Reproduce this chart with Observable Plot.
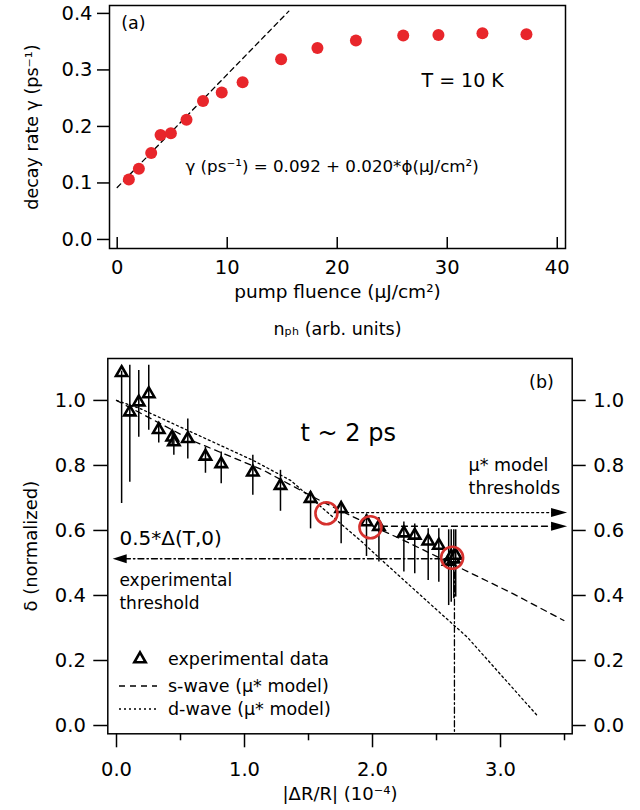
<!DOCTYPE html>
<html><head><meta charset="utf-8">
<script src="https://cdn.jsdelivr.net/npm/d3@7"></script>
<script src="https://cdn.jsdelivr.net/npm/@observablehq/plot@0.6"></script>
<style>
body{margin:0;background:#fff;}
#wrap{position:relative;width:640px;height:810px;background:#fff;}
#wrap svg{position:absolute;left:0;}
</style></head><body><div id="wrap"></div>
<script>
// ---------- Panel (a) data ----------
const fluence = [1.06, 1.97, 3.09, 3.94, 4.88, 6.3, 7.8, 9.5, 11.4, 14.9, 18.2, 21.7, 26.0, 29.2, 33.2, 37.2];
const gamma   = [0.106, 0.125, 0.153, 0.185, 0.188, 0.212, 0.245, 0.260, 0.278, 0.319, 0.339, 0.352, 0.361, 0.362, 0.365, 0.363];
const fitFluence = [0, 15.6];
const fitGamma   = [0.092, 0.404];
const aYTicks = [0, 0.1, 0.2, 0.3, 0.4];
const aXTicks = [0, 10, 20, 30, 40];

// ---------- Panel (b) data ----------
const dR      = [0.04, 0.104, 0.174, 0.252, 0.33, 0.435, 0.448, 0.557, 0.695, 0.818, 1.065, 1.281, 1.516, 1.755, 1.953, 2.05, 2.245, 2.33, 2.435, 2.518, 2.595, 2.615, 2.635, 2.65];
const delta   = [1.085, 0.964, 0.995, 1.02, 0.91, 0.887, 0.872, 0.882, 0.828, 0.805, 0.779, 0.738, 0.698, 0.667, 0.626, 0.612, 0.592, 0.585, 0.567, 0.554, 0.505, 0.52, 0.512, 0.523];
const deltaHi = [1.09, 1.108, 1.092, 1.108, 0.929, 0.9, 0.9, 0.943, 0.856, 0.841, 0.831, 0.785, 0.72, 0.69, 0.65, 0.64, 0.626, 0.62, 0.605, 0.605, 0.602, 0.602, 0.602, 0.602];
const deltaLo = [0.683, 0.748, 0.887, 0.908, 0.869, 0.86, 0.831, 0.82, 0.776, 0.744, 0.708, 0.659, 0.605, 0.559, 0.52, 0.503, 0.472, 0.467, 0.446, 0.441, 0.369, 0.379, 0.39, 0.395];

const sWaveX = [0, 0.6, 1.15, 1.37, 1.6, 2.0, 2.22, 2.71, 3.1, 3.495];
const sWaveY = [1.0, 0.875, 0.785, 0.738, 0.69, 0.613, 0.574, 0.48, 0.405, 0.323];
const dWaveX = [0, 0.19, 1.07, 1.36, 1.65, 1.906, 2.06, 2.49, 2.74, 3.286];
const dWaveY = [1.0, 0.974, 0.815, 0.754, 0.655, 0.569, 0.513, 0.36, 0.272, 0.031];

const circleX = [1.64, 1.984, 2.622];
const circleY = [0.653, 0.610, 0.516];

const modelArrowX1 = [1.72, 2.07];
const modelArrowX2 = [3.52, 3.52];
const modelArrowY  = [0.655, 0.613];
const modelArrowDash = ["2,3", "6,4"];

const expThrX = 2.64, expThrY = 0.513, expArrowTipX = -0.03;

const bYTicks = [0, 0.2, 0.4, 0.6, 0.8, 1.0];
const bXTicks = [0, 1, 2, 3];
const bXMinor = [0.5, 1.5, 2.5, 3.5];

// ---------- helpers ----------
const FONT = '"DejaVu Sans", sans-serif';
const f1 = d3.format(".1f");
const headRight = {draw(c){c.moveTo(0,0);c.lineTo(-16,-4.5);c.lineTo(-16,4.5);c.closePath();}};
const headLeft  = {draw(c){c.moveTo(0,0);c.lineTo(14,-4.5);c.lineTo(14,4.5);c.closePath();}};

const wrap = document.getElementById("wrap");

// ---------- Panel (a) ----------
const aPts = fluence.map((f, i) => ({f, g: gamma[i]}));
const aFit = fitFluence.map((f, i) => ({f, g: fitGamma[i]}));
const A = Plot.plot({
  width: 640, height: 340,
  marginLeft: 109, marginRight: 75, marginTop: 5, marginBottom: 92,
  style: {fontFamily: FONT, fontSize: "19px", color: "black", background: "white"},
  x: {domain: [-0.7, 40.75]},
  y: {domain: [-0.016, 0.414]},
  marks: [
    Plot.frame({stroke: "black", strokeWidth: 1.5}),
    Plot.axisY({ticks: aYTicks, tickSize: 12, tickPadding: 5, tickFormat: f1, fontSize: 19.5, strokeWidth: 1.5, label: null}),
    Plot.axisX({ticks: aXTicks, tickSize: 0, tickPadding: 12, tickFormat: d => String(d), fontSize: 19.5, label: null}),
    Plot.tickX(aXTicks, {x: d => d, insetTop: 232, strokeWidth: 1.5}),
    Plot.line(aFit, {x: "f", y: "g", stroke: "black", strokeWidth: 1.3, strokeDasharray: "5,4"}),
    Plot.dot(aPts, {x: "f", y: "g", r: 6, fill: "#e8262b"}),
    Plot.text(["(a)"], {x: 0.36, y: 0.383, textAnchor: "start", fontSize: 17.5}),
    Plot.text(["T = 10 K"], {x: 27.66, y: 0.281, textAnchor: "start", fontSize: 19}),
    Plot.text(["γ (ps⁻¹) = 0.092 + 0.020*ϕ(μJ/cm²)"], {x: 6.2, y: 0.128, textAnchor: "start", fontSize: 16.7}),
    Plot.text(["pump fluence (μJ/cm²)"], {frameAnchor: "bottom", dy: 44, lineAnchor: "middle", textAnchor: "middle", fontSize: 18.5}),
    Plot.text(["nₚₕ (arb. units)"], {frameAnchor: "bottom", dy: 81, lineAnchor: "middle", textAnchor: "middle", fontSize: 17.5}),
    Plot.text(["decay rate γ (ps⁻¹)"], {frameAnchor: "left", dx: -77, rotate: -90, textAnchor: "middle", lineAnchor: "middle", fontSize: 17.5})
  ]
});
A.style.top = "0px";
wrap.appendChild(A);

// ---------- Panel (b) ----------
const bPts = dR.map((x, i) => ({x, y: delta[i], lo: deltaLo[i], hi: deltaHi[i]}));
const sLine = sWaveX.map((x, i) => ({x, y: sWaveY[i]}));
const dLine = dWaveX.map((x, i) => ({x, y: dWaveY[i]}));
const circles = circleX.map((x, i) => ({x, y: circleY[i]}));
const yMinB = -0.0255;
const modelArrows = modelArrowY.map((y, i) => ({x1: modelArrowX1[i], x2: modelArrowX2[i], y, dash: modelArrowDash[i]}));

const B = Plot.plot({
  width: 640, height: 470,
  marginLeft: 107.3, marginRight: 68.3, marginTop: 18, marginBottom: 76.7,
  style: {fontFamily: FONT, fontSize: "19px", color: "black", background: "white", overflow: "visible"},
  x: {domain: [-0.068, 3.56]},
  y: {domain: [yMinB, 1.129]},
  marks: [
    Plot.frame({stroke: "black", strokeWidth: 1.5}),
    Plot.axisY({ticks: bYTicks, anchor: "left", tickSize: 14, tickPadding: 8, tickFormat: f1, fontSize: 19.5, strokeWidth: 1.5, label: null}),
    Plot.axisY({ticks: bYTicks, anchor: "right", tickSize: 13, tickPadding: 8, tickFormat: f1, fontSize: 19.5, strokeWidth: 1.5, label: null}),
    Plot.axisX({ticks: bXTicks, tickSize: 14, tickPadding: 14, tickFormat: f1, fontSize: 19.5, strokeWidth: 1.5, label: null}),
    Plot.axisX({ticks: bXMinor, tickSize: 7, tickFormat: () => "", strokeWidth: 1.5, label: null}),
    // model curves
    Plot.line(sLine, {x: "x", y: "y", stroke: "black", strokeWidth: 1.3, strokeDasharray: "6,5"}),
    Plot.line(dLine, {x: "x", y: "y", stroke: "black", strokeWidth: 1.3, strokeDasharray: "2,3"}),
    // model threshold arrows
    ...modelArrows.map(a => Plot.line([{x: a.x1, y: a.y}, {x: a.x2 - 0.08, y: a.y}], {x: "x", y: "y", stroke: "black", strokeWidth: 1.3, strokeDasharray: a.dash})),
    Plot.dot(modelArrows, {x: "x2", y: "y", symbol: headRight, fill: "black", stroke: null}),
    // experimental threshold
    Plot.line([{x: expThrX, y: expThrY}, {x: expArrowTipX + 0.08, y: expThrY}], {x: "x", y: "y", stroke: "black", strokeWidth: 1.3, strokeDasharray: "6,3,1.5,3"}),
    Plot.line([{x: expThrX, y: expThrY}, {x: expThrX, y: yMinB}], {x: "x", y: "y", stroke: "black", strokeWidth: 1.3, strokeDasharray: "6,3,1.5,3"}),
    Plot.dot([{x: expArrowTipX, y: expThrY}], {x: "x", y: "y", symbol: headLeft, fill: "black", stroke: null}),
    // data
    Plot.dot(bPts, {x: "x", y: "y", symbol: "triangle", r: 4.2, fill: "white", stroke: "black", strokeWidth: 2.6}),
    Plot.ruleX(bPts, {x: "x", y1: "lo", y2: "hi", stroke: "black", strokeWidth: 1.5}),
    Plot.dot(circles, {x: "x", y: "y", r: 11, fill: "none", stroke: "#d6312e", strokeWidth: 2.6}),
    // annotations
    Plot.text(["(b)"], {x: 3.32, y: 1.055, fontSize: 17.5}),
    Plot.text(["t ~ 2 ps"], {x: 1.4375, y: 0.898, textAnchor: "start", fontSize: 24}),
    Plot.text(["μ* model"], {x: 2.75, y: 0.8, textAnchor: "start", fontSize: 17.5}),
    Plot.text(["thresholds"], {x: 2.75, y: 0.729, textAnchor: "start", fontSize: 17.5}),
    Plot.text(["0.5*Δ(T,0)"], {x: 0.023, y: 0.575, textAnchor: "start", fontSize: 20}),
    Plot.text(["experimental"], {x: 0.023, y: 0.446, textAnchor: "start", fontSize: 17}),
    Plot.text(["threshold"], {x: 0.023, y: 0.374, textAnchor: "start", fontSize: 17}),
    Plot.text(["|ΔR/R| (10⁻⁴)"], {frameAnchor: "bottom", dy: 60, lineAnchor: "middle", textAnchor: "middle", fontSize: 18}),
    Plot.text(["δ (normalized)"], {frameAnchor: "left", dx: -77, rotate: -90, textAnchor: "middle", lineAnchor: "middle", fontSize: 18})
  ]
});
B.style.top = "340px";
wrap.appendChild(B);

// ---------- Legend for panel (b) ----------
const legendItems = [
  {label: "experimental data", kind: "triangle"},
  {label: "s-wave (μ* model)", kind: "6,5"},
  {label: "d-wave (μ* model)", kind: "2,3"}
];
const lg = d3.select(B).append("g").attr("font-family", FONT).attr("font-size", 17.5).attr("text-anchor", "start");
const rowY = [319, 346, 369];
legendItems.forEach((it, i) => {
  const y = rowY[i];
  if (it.kind === "triangle") {
    lg.append("path").attr("d", d3.symbol(d3.symbolTriangle, Math.PI * 4.2 * 4.2)())
      .attr("transform", `translate(140,${y})`).attr("fill", "white").attr("stroke", "black").attr("stroke-width", 2.6);
  } else {
    lg.append("line").attr("x1", 119).attr("x2", 157).attr("y1", y).attr("y2", y)
      .attr("stroke", "black").attr("stroke-width", 1.3).attr("stroke-dasharray", it.kind);
  }
  lg.append("text").attr("x", 168).attr("y", y).attr("dy", "0.35em").attr("fill", "black")
    .attr("text-anchor", "start").text(it.label);
});
</script></body></html>
